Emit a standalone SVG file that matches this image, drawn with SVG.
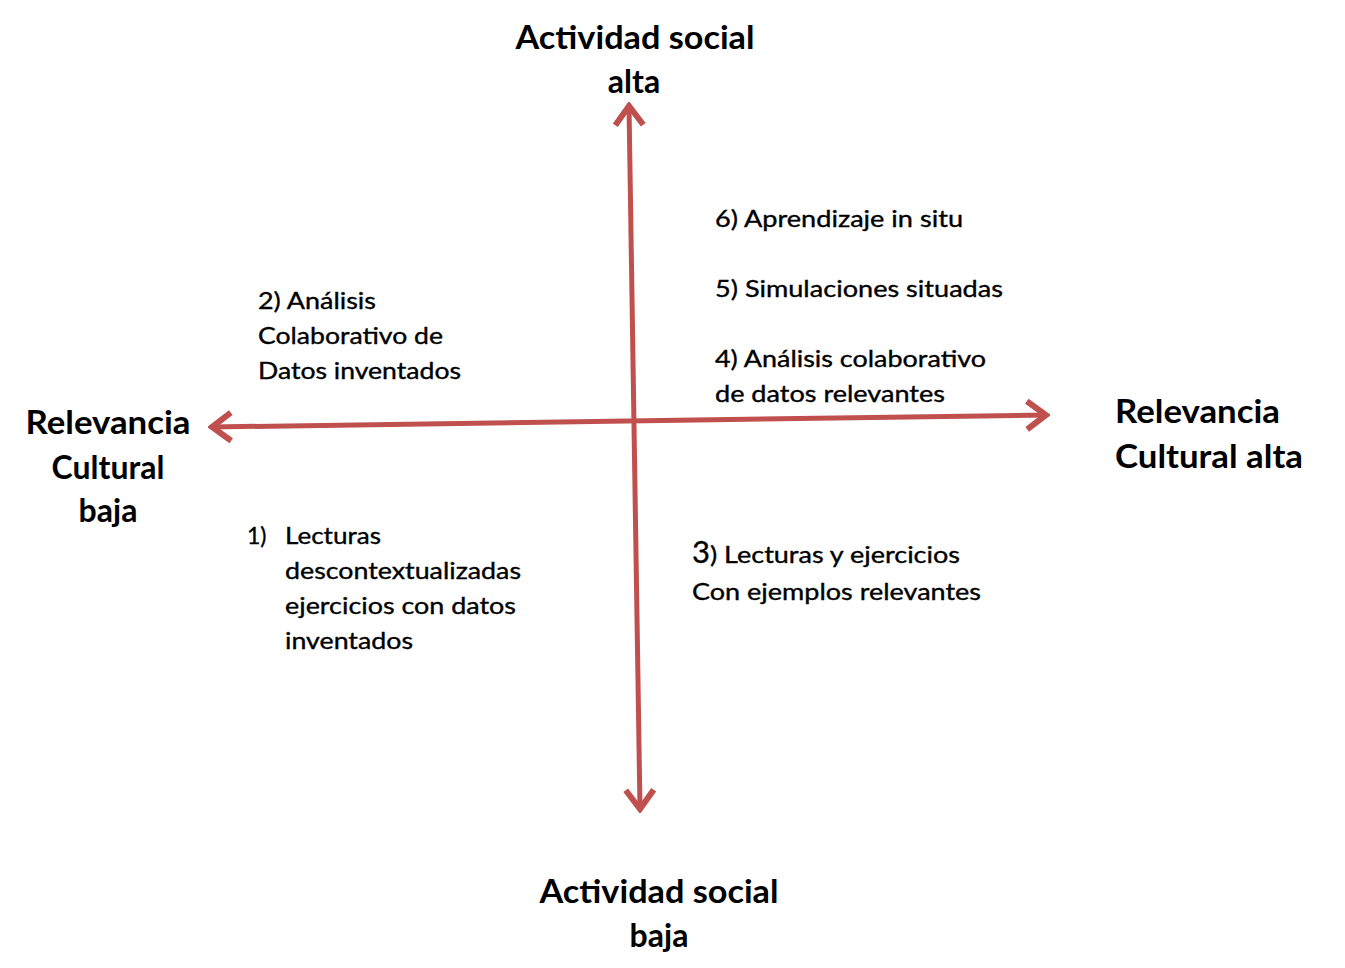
<svg xmlns="http://www.w3.org/2000/svg" width="1345" height="968" viewBox="0 0 1345 968">
<style>
.ax{fill:none;stroke:#C0504D;stroke-width:5;stroke-linecap:butt}
.t{font-family:Lato,"Liberation Sans",sans-serif;fill:#000}
.h{font-size:32px;font-weight:bold}
.b{font-size:23px;stroke:#000;stroke-width:0.35}
</style>
<defs>
<marker id="ah" viewBox="-26 -20 30 40" markerWidth="30" markerHeight="40" refX="0" refY="0" orient="auto-start-reverse" markerUnits="userSpaceOnUse">
<path d="M-19,-14 L0,0 L-19,14" fill="none" stroke="#C0504D" stroke-width="6" stroke-linejoin="miter"/>
</marker>
</defs>
<g id="connectors">
<path class="ax" d="M629,106 L640,809" marker-start="url(#ah)" marker-end="url(#ah)"/>
<path class="ax" d="M212,427 L1046,415" marker-start="url(#ah)" marker-end="url(#ah)"/>
</g>
<g id="top-label" class="t h" text-anchor="middle">
<text x="635" y="49" textLength="239" lengthAdjust="spacingAndGlyphs">Actividad social</text>
<text x="634" y="93">alta</text>
</g>
<g id="bottom-label" class="t h" text-anchor="middle">
<text x="659" y="903" textLength="239" lengthAdjust="spacingAndGlyphs">Actividad social</text>
<text x="659" y="947">baja</text>
</g>
<g id="left-label" class="t h" text-anchor="middle">
<text x="108" y="434" textLength="165" lengthAdjust="spacingAndGlyphs">Relevancia</text>
<text x="108" y="479">Cultural</text>
<text x="108" y="522">baja</text>
</g>
<g id="right-label" class="t h">
<text x="1115" y="423" textLength="165" lengthAdjust="spacingAndGlyphs">Relevancia</text>
<text x="1115" y="468" textLength="188" lengthAdjust="spacingAndGlyphs">Cultural alta</text>
</g>
<g id="node2" class="t b">
<text x="258" y="309" textLength="118" lengthAdjust="spacingAndGlyphs">2) Análisis</text>
<text x="258" y="344" textLength="185" lengthAdjust="spacingAndGlyphs">Colaborativo de</text>
<text x="258" y="379" textLength="203" lengthAdjust="spacingAndGlyphs">Datos inventados</text>
</g>
<g id="node6" class="t b">
<text x="715" y="227" textLength="248" lengthAdjust="spacingAndGlyphs">6) Aprendizaje in situ</text>
</g>
<g id="node5" class="t b">
<text x="715" y="297" textLength="288" lengthAdjust="spacingAndGlyphs">5) Simulaciones situadas</text>
</g>
<g id="node4" class="t b">
<text x="715" y="367" textLength="271" lengthAdjust="spacingAndGlyphs">4) Análisis colaborativo</text>
<text x="715" y="402" textLength="230" lengthAdjust="spacingAndGlyphs">de datos relevantes</text>
</g>
<g id="node1" class="t b">
<text x="247" y="544">1)</text>
<text x="285" y="544" textLength="96" lengthAdjust="spacingAndGlyphs">Lecturas</text>
<text x="285" y="579" textLength="236" lengthAdjust="spacingAndGlyphs">descontextualizadas</text>
<text x="285" y="614" textLength="231" lengthAdjust="spacingAndGlyphs">ejercicios con datos</text>
<text x="285" y="649" textLength="128" lengthAdjust="spacingAndGlyphs">inventados</text>
</g>
<g id="node3" class="t b">
<text x="692" y="563"><tspan font-size="31">3</tspan><tspan textLength="250" lengthAdjust="spacingAndGlyphs">) Lecturas y ejercicios</tspan></text>
<text x="692" y="600" textLength="289" lengthAdjust="spacingAndGlyphs">Con ejemplos relevantes</text>
</g>
</svg>
